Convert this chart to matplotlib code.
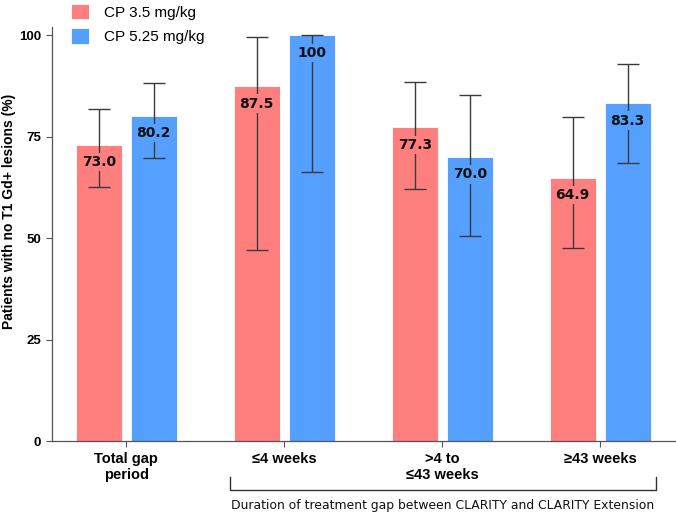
import matplotlib
matplotlib.use("Agg")
import matplotlib.pyplot as plt
import matplotlib.transforms as mtransforms
import numpy as np

categories = ["Total gap\nperiod", "≤4 weeks", ">4 to\n≤43 weeks", "≥43 weeks"]
series_names = ["CP 3.5 mg/kg", "CP 5.25 mg/kg"]
cp35 = [73.0, 87.5, 77.3, 64.9]
cp35_lo = [62.5, 47.2, 62.1, 47.5]
cp35_hi = [81.8, 99.6, 88.4, 79.8]
cp525 = [80.2, 100, 70.0, 83.3]
cp525_lo = [69.8, 66.3, 50.6, 68.6]
cp525_hi = [88.2, 100, 85.2, 93.0]
value_labels_35 = ["73.0", "87.5", "77.3", "64.9"]
value_labels_525 = ["80.2", "100", "70.0", "83.3"]
yticks = [0, 25, 50, 75, 100]

red = "#FF7F7F"
blue = "#559FFF"
sans = ["Liberation Sans", "DejaVu Sans"]

fig = plt.figure(figsize=(6.76, 5.14), dpi=100)
ax = fig.add_axes([0.077, 0.142, 0.923, 0.805])

x = np.arange(len(categories))
w = 0.29
off = 0.174

for vals, lo, hi, labs, col, sgn, name in [
    (cp35, cp35_lo, cp35_hi, value_labels_35, red, -1, series_names[0]),
    (cp525, cp525_lo, cp525_hi, value_labels_525, blue, 1, series_names[1]),
]:
    xs = x + sgn * off
    ax.bar(xs, vals, width=w, color=col, edgecolor="white", linewidth=0.6, label=name, zorder=2)
    err = [np.array(vals) - np.array(lo), np.array(hi) - np.array(vals)]
    ax.errorbar(xs, vals, yerr=err, fmt="none", ecolor="#3a3a3a", elinewidth=1.0,
                capsize=8, capthick=1.0, zorder=3)
    for xi, v, t in zip(xs, vals, labs):
        ax.text(xi, v - 4.3, t, ha="center", va="center", fontsize=10, fontweight="bold",
                family="DejaVu Sans", color="#111111", zorder=4,
                bbox=dict(boxstyle="square,pad=0.15", facecolor=col, edgecolor="none"))

ax.set_xlim(-0.47, 3.48)
ax.set_ylim(0, 102)
ax.set_yticks(yticks)
ax.set_yticklabels([str(t) for t in yticks], fontweight="bold", family=sans, fontsize=9.5)
ax.set_xticks(x)
ax.set_xticklabels(categories, fontweight="bold", family=sans, fontsize=10.5, linespacing=1.15)
ax.tick_params(axis="both", length=4, color="#555555", width=0.8)
ax.tick_params(axis="y", pad=4)
ax.tick_params(axis="x", pad=4)
for s in ["top", "right"]:
    ax.spines[s].set_visible(False)
for s in ["left", "bottom"]:
    ax.spines[s].set_color("#555555")
    ax.spines[s].set_linewidth(0.9)

ax.set_ylabel("Patients with no T1 Gd+ lesions (%)", fontsize=10, fontweight="bold",
              family=sans)
ax.yaxis.set_label_coords(-0.057, 0.556)

leg = ax.legend(loc="upper left", bbox_to_anchor=(0.008, 1.09), frameon=False,
                prop={"family": "Liberation Sans", "size": 11},
                handlelength=1.2, handleheight=1.2, handletextpad=1.0, labelspacing=0.55)

trans = mtransforms.blended_transform_factory(ax.transData, ax.transAxes)
xl, xr = 0.657, 3.353
yb, yt = -0.118, -0.088
ax.plot([xl, xl, xr, xr], [yt, yb, yb, yt], transform=trans, color="#333333",
        linewidth=1.0, clip_on=False)
ax.text((xl + xr) / 2, -0.157, "Duration of treatment gap between CLARITY and CLARITY Extension",
        transform=trans, ha="center", va="center", fontsize=8.9, family="DejaVu Sans",
        color="#111111")

fig.savefig("out.png", dpi=100)
